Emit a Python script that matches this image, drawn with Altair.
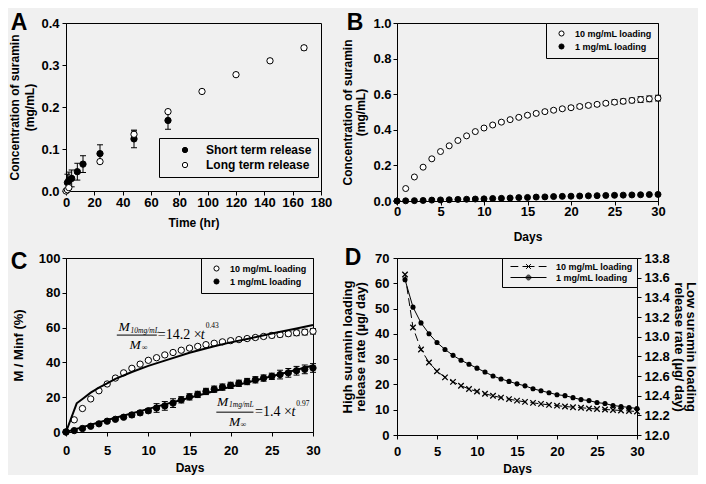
import altair as alt
import pandas as pd

FONT = "Liberation Sans"
SERIF = "Liberation Serif"
BG = "#f0f0f0"

# ---------------- data ----------------
# Panel A
a_short_t = [1, 2, 4, 8, 12, 24, 48, 72]
a_short_c = [0.020, 0.025, 0.030, 0.046, 0.064, 0.089, 0.124, 0.168]
a_short_e = [0.020, 0.020, 0.020, 0.020, 0.020, 0.021, 0.021, 0.021]
a_long_t = [0, 1, 2, 24, 48, 72, 96, 120, 144, 168]
a_long_c = [0.000, 0.003, 0.008, 0.070, 0.135, 0.189, 0.237, 0.277, 0.310, 0.341]
a_long_e = [0, 0, 0, 0, 0.008, 0, 0, 0.004, 0.004, 0.005]

# Panels B and C (days 0..30)
days = list(range(0, 31))
b_high = [0.000, 0.070, 0.135, 0.190, 0.237, 0.278, 0.310, 0.340, 0.366, 0.390,
          0.410, 0.427, 0.443, 0.457, 0.470, 0.482, 0.492, 0.502, 0.510, 0.518,
          0.524, 0.531, 0.537, 0.543, 0.549, 0.555, 0.560, 0.565, 0.570, 0.574, 0.578]
b_high_e = [0, 0, 0, 0, 0, 0, 0, 0, 0, 0,
            0.006, 0.006, 0.006, 0.006, 0.006, 0.008, 0.008, 0.008, 0.008, 0.008,
            0.010, 0.010, 0.010, 0.010, 0.010, 0.013, 0.013, 0.013, 0.016, 0.016, 0.016]
b_low = [0.000, 0.001, 0.002, 0.003, 0.005, 0.006, 0.007, 0.009, 0.010, 0.011,
         0.012, 0.014, 0.015, 0.017, 0.019, 0.020, 0.022, 0.023, 0.025, 0.026,
         0.027, 0.028, 0.029, 0.030, 0.031, 0.032, 0.033, 0.034, 0.035, 0.036, 0.037]

c_high = [0.0, 7.0, 13.5, 19.0, 23.7, 27.6, 31.0, 34.0, 36.6, 39.0,
          41.2, 42.7, 44.3, 45.7, 47.0, 48.2, 49.2, 50.2, 51.0, 51.8,
          52.5, 53.1, 53.7, 54.3, 54.9, 55.5, 56.0, 56.5, 57.0, 57.4, 57.9]
c_high_e = [0, 0, 0, 0, 0, 0, 0, 0, 0, 0,
            0.6, 0.6, 0.6, 0.6, 0.6, 0.8, 0.8, 0.8, 0.8, 0.8,
            1.0, 1.0, 1.0, 1.0, 1.0, 1.3, 1.3, 1.3, 1.6, 1.6, 1.6]
c_low = [0.0, 0.8, 2.0, 3.3, 4.7, 6.2, 7.3, 8.5, 9.8, 11.0,
         12.2, 13.8, 15.0, 16.6, 18.5, 20.2, 21.6, 23.3, 24.6, 25.8,
         26.8, 28.0, 29.0, 30.0, 31.0, 32.0, 33.0, 34.0, 35.2, 36.0, 36.8]
c_low_e = [0, 0, 0, 0, 0, 0, 0, 0, 1.2, 1.2,
           1.2, 2.5, 2.5, 2.5, 1.8, 1.8, 1.8, 1.8, 1.8, 1.8,
           1.8, 1.8, 1.8, 1.8, 1.8, 1.8, 2.5, 2.5, 2.5, 2.5, 2.5]
fit_high_t = [0, 1.3, 2, 3, 4, 5, 6, 8, 10, 12, 15, 18, 20, 22, 25, 28, 30]
fit_high_v = [0, 16.5, 19.0, 22.6, 25.5, 28.0, 30.5, 34.5, 38.0, 41.0, 45.5, 49.3, 51.5, 53.5, 56.6, 59.5, 61.5]
fit_low_t = [0, 2, 5, 10, 15, 20, 25, 30]
fit_low_v = [0, 2.8, 6.9, 13.3, 19.7, 26.0, 32.0, 38.2]

# Panel D (days 1..30)
d_days = list(range(1, 31))
d_high = [63.5, 42.5, 33.8, 28.7, 25.2, 22.8, 21.0, 19.5, 18.2, 17.2,
          16.3, 15.5, 14.8, 14.2, 13.6, 13.1, 12.7, 12.3, 11.9, 11.6,
          11.3, 11.0, 10.8, 10.5, 10.3, 10.1, 9.9, 9.7, 9.5, 9.3]
d_low = [13.58, 13.30, 13.14, 13.03, 12.94, 12.87, 12.81, 12.76, 12.72, 12.68,
         12.64, 12.60, 12.57, 12.545, 12.52, 12.50, 12.47, 12.45, 12.43, 12.41,
         12.40, 12.38, 12.36, 12.35, 12.33, 12.32, 12.30, 12.29, 12.28, 12.27]

LBL_SHORT, LBL_LONG = "Short term release", "Long term release"
LBL_HI, LBL_LO = "10 mg/mL loading", "1 mg/mL loading"


# ---------------- helpers ----------------
def ax(**kw):
    base = dict(grid=False, domainColor="black", tickColor="black", labelColor="black",
                titleColor="black", labelFont=FONT, titleFont=FONT, labelFontWeight="bold",
                titleFontWeight="bold", labelFontSize=13, titleFontSize=13, tickSize=4,
                labelPadding=3, titlePadding=6, labelFlush=False, labelOverlap=False,
                domainWidth=1, tickWidth=1)
    base.update(kw)
    return alt.Axis(**base)


def letter(ch, dx, dy):
    return alt.Chart(pd.DataFrame({"l": [ch]})).mark_text(
        font=FONT, fontWeight="bold", fontSize=23, align="center", baseline="middle",
        color="black").encode(x=alt.value(dx), y=alt.value(dy), text="l:N")


def points_and_errors(df, xenc, yfield, scale_y, yaxis, fill_enc, size):
    err = df[df["e"] > 0].copy()
    err["lo"] = err[yfield] - err["e"]
    err["hi"] = err[yfield] + err["e"]
    rule = alt.Chart(err).mark_rule(color="black", strokeWidth=1).encode(
        x=xenc, y=alt.Y("lo:Q", scale=scale_y, axis=yaxis), y2="hi:Q")
    cap_hi = alt.Chart(err).mark_tick(color="black", orient="horizontal", size=6,
                                      thickness=1, opacity=1).encode(
        x=xenc, y=alt.Y("hi:Q", scale=scale_y, axis=yaxis))
    cap_lo = alt.Chart(err).mark_tick(color="black", orient="horizontal", size=6,
                                      thickness=1, opacity=1).encode(
        x=xenc, y=alt.Y("lo:Q", scale=scale_y, axis=yaxis))
    pts = alt.Chart(df).mark_point(shape="circle", filled=True, stroke="black",
                                   strokeWidth=1, size=size, opacity=1).encode(
        x=xenc, y=alt.Y(f"{yfield}:Q", scale=scale_y, axis=yaxis), fill=fill_enc)
    return [rule, cap_hi, cap_lo, pts]


# ---------------- panel A ----------------
dfA = pd.DataFrame({
    "t": a_short_t + a_long_t,
    "c": a_short_c + a_long_c,
    "e": a_short_e + a_long_e,
    "s": [LBL_SHORT] * len(a_short_t) + [LBL_LONG] * len(a_long_t),
})
xA = alt.X("t:Q", scale=alt.Scale(domain=[0, 180], nice=False),
           axis=ax(values=list(range(0, 181, 20)), title="Time (hr)", titleFontSize=12,
                   labelPadding=1, titlePadding=8))
yA_scale = alt.Scale(domain=[0, 0.4], nice=False)
yA_axis = ax(values=[0, 0.1, 0.2, 0.3, 0.4], format=".1f", labelPadding=3,
             title=["Concentration of suramin", "(mg/mL)"], titleFontSize=12,
             titlePadding=4, titleLineHeight=15)
fillA = alt.Fill("s:N", scale=alt.Scale(domain=[LBL_SHORT, LBL_LONG], range=["black", "white"]),
                 legend=alt.Legend(title=None, orient="none", legendX=93, legendY=115,
                                   strokeColor="black", fillColor=BG, padding=6, cornerRadius=0,
                                   labelFont=FONT, labelFontWeight="bold", labelFontSize=12,
                                   labelColor="black", symbolType="circle", symbolSize=28,
                                   symbolStrokeColor="black", symbolStrokeWidth=1,
                                   symbolOffset=14, labelOffset=15, rowPadding=3))
panelA = alt.layer(*points_and_errors(dfA, xA, "c", yA_scale, yA_axis, fillA, 40),
                   letter("A", -47, 0)).properties(width=255, height=168)

# ---------------- panel B ----------------
dfB = pd.DataFrame({
    "d": days + days,
    "c": b_high + b_low,
    "e": b_high_e + [0] * len(days),
    "s": [LBL_HI] * len(days) + [LBL_LO] * len(days),
})
xB = alt.X("d:Q", scale=alt.Scale(domain=[0, 30], nice=False),
           axis=ax(values=list(range(0, 31, 5)), title="Days", titleFontSize=12,
                   labelPadding=0, titlePadding=13))
yB_scale = alt.Scale(domain=[0, 1], nice=False)
yB_axis = ax(values=[0, 0.2, 0.4, 0.6, 0.8, 1.0], format=".1f", labelPadding=2,
             title=["Concentration of suramin", "(mg/mL)"], titleFontSize=12,
             titlePadding=5, titleLineHeight=13)
legend_small = dict(title=None, orient="top-right", offset=0, strokeColor="black", fillColor=BG,
                    padding=6, cornerRadius=0, labelFont=FONT, labelFontWeight="bold",
                    labelFontSize=9, labelColor="black", symbolType="circle", symbolSize=26,
                    symbolStrokeColor="black", symbolStrokeWidth=1, symbolOffset=5,
                    labelOffset=9, rowPadding=2)
fillB = alt.Fill("s:N", scale=alt.Scale(domain=[LBL_HI, LBL_LO], range=["white", "black"]),
                 legend=alt.Legend(**legend_small))
panelB = alt.layer(*points_and_errors(dfB, xB, "c", yB_scale, yB_axis, fillB, 36),
                   letter("B", -42, 0)).properties(width=261, height=178)

# ---------------- panel C ----------------
dfC = pd.DataFrame({
    "d": days + days,
    "c": c_high + c_low,
    "e": c_high_e + c_low_e,
    "s": [LBL_HI] * len(days) + [LBL_LO] * len(days),
})
xC = alt.X("d:Q", scale=alt.Scale(domain=[0, 30], nice=False),
           axis=ax(values=list(range(0, 31, 5)), title="Days", titleFontSize=12,
                   labelPadding=8, titlePadding=5))
yC_scale = alt.Scale(domain=[0, 100], nice=False)
yC_axis = ax(values=list(range(0, 101, 20)), title="M / Minf (%)", labelPadding=2,
             titlePadding=13)
fillC = alt.Fill("s:N", scale=alt.Scale(domain=[LBL_HI, LBL_LO], range=["white", "black"]),
                 legend=alt.Legend(**legend_small))
fitC = pd.DataFrame({"d": fit_high_t + fit_low_t, "c": fit_high_v + fit_low_v,
                     "f": ["hi"] * len(fit_high_t) + ["lo"] * len(fit_low_t)})
fit_lines = alt.Chart(fitC).mark_line(color="black", strokeWidth=2).encode(
    x=xC, y=alt.Y("c:Q", scale=yC_scale, axis=yC_axis), detail="f:N")

eq_text = pd.DataFrame([
    ("M", 6.37, 60.2, 13.5, "italic"),
    ("10mg/mL", 7.83, 58.3, 7.5, "italic"),
    ("M", 7.71, 50.0, 13.5, "italic"),
    ("\u221e", 9.19, 48.3, 8, "normal"),
    ("=14.2 \u00d7", 11.15, 56.0, 14, "normal"),
    ("t", 16.36, 56.0, 14, "italic"),
    ("0.43", 16.96, 60.8, 7.5, "normal"),
    ("M", 18.34, 17.2, 13.5, "italic"),
    ("1mg/mL", 19.8, 15.3, 7.5, "italic"),
    ("M", 19.8, 5.7, 13.5, "italic"),
    ("\u221e", 21.2, 4.0, 8, "normal"),
    ("=1.4 \u00d7", 22.97, 11.7, 14, "normal"),
    ("t", 27.4, 11.7, 14, "italic"),
    ("0.97", 27.98, 15.9, 7.5, "normal"),
], columns=["txt", "d", "c", "sz", "st"])
eq_layers = []
for (sz, st), g in eq_text.groupby(["sz", "st"]):
    eq_layers.append(alt.Chart(g).mark_text(font=SERIF, fontSize=sz, fontStyle=st,
                                            align="left", baseline="middle", color="black").encode(
        x=xC, y=alt.Y("c:Q", scale=yC_scale, axis=yC_axis), text="txt:N"))
bars = pd.DataFrame({"d": [6.17, 18.26], "d2": [11.03, 22.77], "c": [55.7, 11.4]})
frac = alt.Chart(bars).mark_rule(color="black", strokeWidth=1).encode(
    x=xC, x2="d2:Q", y=alt.Y("c:Q", scale=yC_scale, axis=yC_axis))

panelC = alt.layer(*points_and_errors(dfC, xC, "c", yC_scale, yC_axis, fillC, 40),
                   fit_lines, frac, *eq_layers,
                   letter("C", -47, 3.5)).properties(width=247, height=174)

# ---------------- panel D ----------------
XPATH = "M-1,-1L1,1M-1,1L1,-1"
LEG_HI = "M0,0H2.6M4,0H8M9.4,0H12M5.2,-0.8L6.8,0.8M5.2,0.8L6.8,-0.8"
LEG_LO = ("M0,0H12"
          "M6.8,0A0.8,0.8 0 1,1 5.2,0A0.8,0.8 0 1,1 6.8,0"
          "M6.45,0A0.45,0.45 0 1,1 5.55,0A0.45,0.45 0 1,1 6.45,0"
          "M6.15,0A0.15,0.15 0 1,1 5.85,0A0.15,0.15 0 1,1 6.15,0")
xD = alt.X("d:Q", scale=alt.Scale(domain=[0, 30], nice=False),
           axis=ax(values=list(range(0, 31, 5)), title="Days", titleFontSize=12,
                   labelPadding=6, titlePadding=5))
dfD_hi = pd.DataFrame({"d": d_days, "v": d_high})
dfD_lo = pd.DataFrame({"d": d_days, "v": d_low})
yD_hi = alt.Y("v:Q", scale=alt.Scale(domain=[0, 70], nice=False),
              axis=ax(values=list(range(0, 71, 10)), orient="left", labelPadding=4,
                      title=["High suramin loading", "release rate (\u00b5g/ day)"],
                      titlePadding=7, titleLineHeight=13))
yD_lo = alt.Y("v:Q", scale=alt.Scale(domain=[12.0, 13.8], nice=False),
              axis=ax(values=[12.0, 12.2, 12.4, 12.6, 12.8, 13.0, 13.2, 13.4, 13.6, 13.8],
                      format=".1f", orient="right", labelPadding=3,
                      title=["Low suramin loading", "release rate (\u00b5g/ day)"],
                      titlePadding=2, titleLineHeight=12.5))
hi_layer = alt.layer(
    alt.Chart(dfD_hi).mark_line(color="black", strokeWidth=1, strokeDash=[8, 4]).encode(x=xD, y=yD_hi),
    alt.Chart(dfD_hi).mark_point(shape=XPATH, filled=False, stroke="black", strokeWidth=1.3,
                                 size=30, opacity=1).encode(x=xD, y=yD_hi),
)
lo_layer = alt.layer(
    alt.Chart(dfD_lo).mark_line(color="black", strokeWidth=1).encode(x=xD, y=yD_lo),
    alt.Chart(dfD_lo).mark_point(shape="circle", filled=True, color="black",
                                 size=26, opacity=1).encode(x=xD, y=yD_lo),
)
leg_df = pd.DataFrame({"s": [LBL_HI, LBL_LO]})
leg_layer = alt.Chart(leg_df).mark_point(filled=False, stroke="black", strokeWidth=1,
                                         opacity=0).encode(
    x=alt.value(0), y=alt.value(0),
    shape=alt.Shape("s:N", scale=alt.Scale(domain=[LBL_HI, LBL_LO], range=[LEG_HI, LEG_LO]),
                    legend=alt.Legend(title=None, orient="top-right", offset=0,
                                      strokeColor="black", fillColor=BG, padding=4,
                                      cornerRadius=0, labelFont=FONT, labelFontWeight="bold",
                                      labelFontSize=9, labelColor="black", symbolSize=36,
                                      symbolOpacity=1, symbolStrokeColor="black",
                                      symbolStrokeWidth=1, symbolOffset=0, labelOffset=41,
                                      rowPadding=1)))
panelD = alt.layer(hi_layer, lo_layer, leg_layer, letter("D", -44, 0)).resolve_scale(
    y="independent").properties(width=240, height=177)

chart = alt.concat(panelA, panelB, panelC, panelD, columns=2,
                   spacing={"row": 3, "column": 8}).resolve_scale(
    fill="independent", shape="independent").resolve_legend(
    fill="independent", shape="independent").configure(
    background=BG, padding={"left": 0, "top": 3, "right": 0, "bottom": 0}
).configure_view(stroke="black", strokeWidth=1).configure_legend(labelLimit=300)

chart.save("out.html", embed_options={"renderer": "svg", "actions": False})
